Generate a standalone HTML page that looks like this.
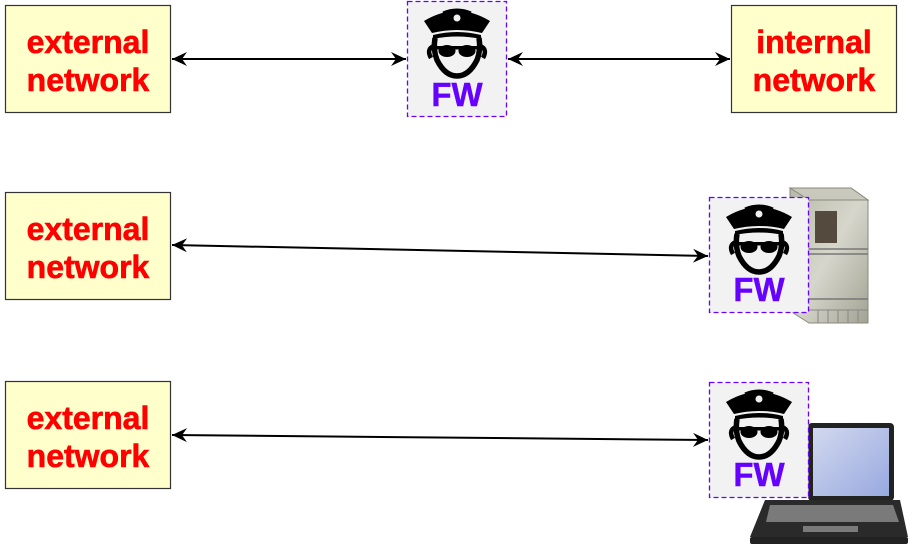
<!DOCTYPE html>
<html><head><meta charset="utf-8"><style>
html,body{margin:0;padding:0;background:#fff;}
svg{display:block;}
.t{font-family:"Liberation Sans",Arial,sans-serif;font-weight:bold;font-size:32px;fill:#ff0000;text-anchor:middle;stroke:#ff0000;stroke-width:0.6;}
.fw{font-family:"Liberation Sans",Arial,sans-serif;font-weight:bold;font-size:33px;fill:#6600ff;text-anchor:middle;stroke:#6600ff;stroke-width:0.4;}
</style></head><body>
<svg width="918" height="549" viewBox="0 0 918 549" xmlns="http://www.w3.org/2000/svg">
<defs>
<marker id="ah" markerWidth="16" markerHeight="14" refX="15" refY="7" orient="auto-start-reverse" markerUnits="userSpaceOnUse">
<path d="M0,0 L15,7 L0,14 L5,7 Z" fill="#000"/>
</marker>
<linearGradient id="srv" x1="0" y1="0" x2="1" y2="1">
<stop offset="0" stop-color="#b9b9a9"/><stop offset="0.5" stop-color="#d6d6cc"/><stop offset="1" stop-color="#a3a394"/>
</linearGradient>
<linearGradient id="scr" x1="0" y1="0" x2="1" y2="1">
<stop offset="0" stop-color="#d2d8ee"/><stop offset="1" stop-color="#97a9e0"/>
</linearGradient>
<g id="cop">
<path d="M17,20 Q50,0 83,20 L75,32 Q50,26 25,32 Z" fill="#000"/>
<path d="M36,12 Q50,6 64,12" fill="none" stroke="#000" stroke-width="3"/>
<circle cx="50" cy="17" r="3.5" fill="#f0f0f0"/>
<path d="M26,34 Q50,28 74,34 L74,38 Q50,33 26,38 Z" fill="#000"/>
<path d="M28,37 Q26,49 30,59 Q38,75 50,75 Q62,75 70,59 Q74,49 72,37" fill="none" stroke="#000" stroke-width="5.5"/>
<path d="M27,45 Q19,48 24,57" fill="none" stroke="#000" stroke-width="4.5"/>
<path d="M73,45 Q81,48 76,57" fill="none" stroke="#000" stroke-width="4.5"/>
<ellipse cx="40" cy="50" rx="8.5" ry="6" fill="#000"/>
<ellipse cx="60" cy="50" rx="8.5" ry="6" fill="#000"/>
<rect x="29" y="45" width="42" height="3.5" fill="#000"/>
</g>
</defs>

<rect x="5.5" y="5.5" width="165" height="107" fill="#ffffcc" stroke="#333" stroke-width="1.2"/>
<text class="t" x="88" y="53">external</text><text class="t" x="88" y="91">network</text>
<rect x="731.5" y="5.5" width="165" height="107" fill="#ffffcc" stroke="#333" stroke-width="1.2"/>
<text class="t" x="814" y="53">internal</text><text class="t" x="814" y="91">network</text>
<rect x="5.5" y="192.5" width="165" height="107" fill="#ffffcc" stroke="#333" stroke-width="1.2"/>
<text class="t" x="88" y="240">external</text><text class="t" x="88" y="278">network</text>
<rect x="5.5" y="381.5" width="165" height="107" fill="#ffffcc" stroke="#333" stroke-width="1.2"/>
<text class="t" x="88" y="429">external</text><text class="t" x="88" y="467">network</text>

<line x1="172" y1="59" x2="406" y2="59" stroke="#000" stroke-width="2" marker-start="url(#ah)" marker-end="url(#ah)"/>
<line x1="508" y1="59" x2="730" y2="59" stroke="#000" stroke-width="2" marker-start="url(#ah)" marker-end="url(#ah)"/>
<line x1="172" y1="245" x2="708" y2="256" stroke="#000" stroke-width="2" marker-start="url(#ah)" marker-end="url(#ah)"/>
<line x1="172" y1="435" x2="708" y2="440" stroke="#000" stroke-width="2" marker-start="url(#ah)" marker-end="url(#ah)"/>

<polygon points="790,188 851,188 868,200 868,323 809,323 790,311" fill="url(#srv)" stroke="#8a8a7c" stroke-width="1"/>
<polygon points="790,188 851,188 868,200 809,200" fill="#c8c8bc" stroke="#8a8a7c" stroke-width="1"/>
<rect x="815" y="211" width="22" height="32" fill="#554a3e"/>
<line x1="800" y1="249" x2="868" y2="249" stroke="#777" stroke-width="1.5"/>
<line x1="800" y1="254" x2="868" y2="254" stroke="#777" stroke-width="1.5"/>
<line x1="800" y1="299" x2="868" y2="299" stroke="#777" stroke-width="1.5"/>
<line x1="800" y1="310" x2="868" y2="310" stroke="#888" stroke-width="1"/>
<g stroke="#888" stroke-width="1"><line x1="818" y1="310" x2="818" y2="323"/><line x1="828" y1="310" x2="828" y2="323"/><line x1="838" y1="310" x2="838" y2="323"/><line x1="848" y1="310" x2="848" y2="323"/><line x1="858" y1="310" x2="858" y2="323"/></g>

<rect x="808" y="423" width="86" height="78" rx="4" fill="#222"/>
<rect x="813" y="428" width="76" height="68" fill="url(#scr)"/>
<polygon points="765,500 900,500 908,537 750,537" fill="#2a2a2a"/>
<polygon points="770,505 893,505 899,522 766,522" fill="#7a7a7a"/>
<rect x="803" y="526" width="55" height="6" fill="#7a7a7a"/>
<rect x="750" y="537" width="158" height="7" rx="2" fill="#222"/>

<g transform="translate(407,1)">
<rect x="0.5" y="0.5" width="99" height="115" fill="#f2f2f2" stroke="#6600ff" stroke-width="1.3" stroke-dasharray="5,3"/>
<use href="#cop"/><text class="fw" x="50" y="105">FW</text></g>
<g transform="translate(709,197)">
<rect x="0.5" y="0.5" width="99" height="115" fill="#f2f2f2" stroke="#6600ff" stroke-width="1.3" stroke-dasharray="5,3"/>
<use href="#cop"/><text class="fw" x="50" y="104">FW</text></g>
<g transform="translate(709,382)">
<rect x="0.5" y="0.5" width="99" height="115" fill="#f2f2f2" stroke="#6600ff" stroke-width="1.3" stroke-dasharray="5,3"/>
<use href="#cop"/><text class="fw" x="50" y="104">FW</text></g>
</svg>
</body></html>
